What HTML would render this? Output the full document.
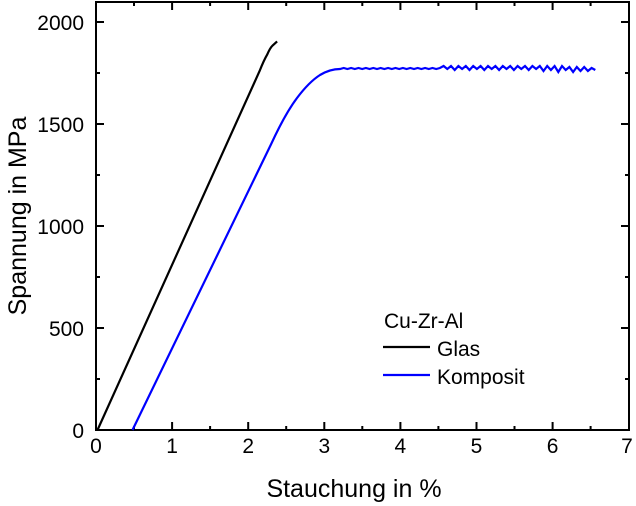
<!DOCTYPE html>
<html><head><meta charset="utf-8"><style>
body{margin:0;background:#fff}
svg{display:block;font-family:"Liberation Sans",Arial,sans-serif}
</style></head><body>
<svg width="636" height="506" viewBox="0 0 636 506" xmlns="http://www.w3.org/2000/svg">
<rect width="636" height="506" fill="#fff"/>
<g stroke="#000" stroke-width="2" fill="none">
<rect x="96" y="2" width="533" height="428"/>
<path d="M172.1,430v-8M248.2,430v-8M324.3,430v-8M400.4,430v-8M476.5,430v-8M552.6,430v-8
M134,430v-4M210.1,430v-4M286.2,430v-4M362.3,430v-4M438.4,430v-4M514.5,430v-4M590.6,430v-4
M172.1,2v8M248.2,2v8M324.3,2v8M400.4,2v8M476.5,2v8M552.6,2v8
M134,2v4M210.1,2v4M286.2,2v4M362.3,2v4M438.4,2v4M514.5,2v4M590.6,2v4"/>
<path d="M96,328h8M96,226h8M96,124h8M96,22h8M96,379h4M96,277h4M96,175h4M96,73h4
M629,328h-8M629,226h-8M629,124h-8M629,22h-8M629,379h-4M629,277h-4M629,175h-4M629,73h-4"/>
</g>
<g font-size="21" fill="#000">
<g text-anchor="middle">
<text x="96" y="453">0</text><text x="172.1" y="453">1</text><text x="248.2" y="453">2</text>
<text x="324.3" y="453">3</text><text x="400.4" y="453">4</text><text x="476.5" y="453">5</text>
<text x="552.6" y="453">6</text><text x="627" y="453">7</text>
</g>
<g text-anchor="end">
<text x="84" y="438">0</text><text x="84" y="336">500</text><text x="84" y="234">1000</text>
<text x="84" y="132">1500</text><text x="84" y="30">2000</text>
</g>
<text x="354" y="497" text-anchor="middle" font-size="25">Stauchung in %</text>
<text transform="translate(26,216) rotate(-90)" text-anchor="middle" font-size="25">Spannung in MPa</text>
<text x="384" y="328" font-size="21">Cu-Zr-Al</text>
<text x="437" y="356" font-size="21">Glas</text>
<text x="437" y="384" font-size="21">Komposit</text>
</g>
<path d="M383,347h47" stroke="#000" stroke-width="2.2"/>
<path d="M383,375h47" stroke="#0000ff" stroke-width="2.2"/>
<path d="M97.5,430L259.6,71Q264,60 267.2,54.6Q270,48 272.6,45.5L277.1,41.4" stroke="#000" stroke-width="2.2" fill="none"/>
<path d="M132.5,430L271,144.4Q285,114 297,98Q309,82 320,75Q330,69 340,69
l3.7,-1l3.7,1l3.7,-1l3.7,1l3.7,-1l3.7,1l3.7,-1l3.7,1l3.7,-1l3.7,1l3.7,-1l3.7,1l3.7,-1l3.7,1l3.7,-1l3.7,1l3.7,-1l3.7,1l3.7,-1l3.7,1l3.7,-1l3.7,1l3.7,-1l3.7,1l3.7,-1l3.7,1l3.7,-1
l3.7,-2l3.7,3l3.7,-3l3.7,4l3.7,-4l3.7,3l3.7,-3l3.7,4l3.7,-4l3.7,3l3.7,-3l3.7,4l3.7,-4l3.7,3l3.7,-3l3.7,4l3.7,-4l3.7,3l3.7,-3l3.7,4l3.7,-4l3.7,3l3.7,-3l3.7,4l3.7,-4l3.7,3
l3.7,-3l3.7,5l3.7,-5l3.7,4l3.7,-4l3.7,6l3.7,-6l3.7,4l3.7,-3l3.7,5l3.7,-5l3.7,4l3.7,-4l3.7,4l3.7,-3l3.7,2" stroke="#0000ff" stroke-width="2.2" fill="none"/>
</svg>
</body></html>
